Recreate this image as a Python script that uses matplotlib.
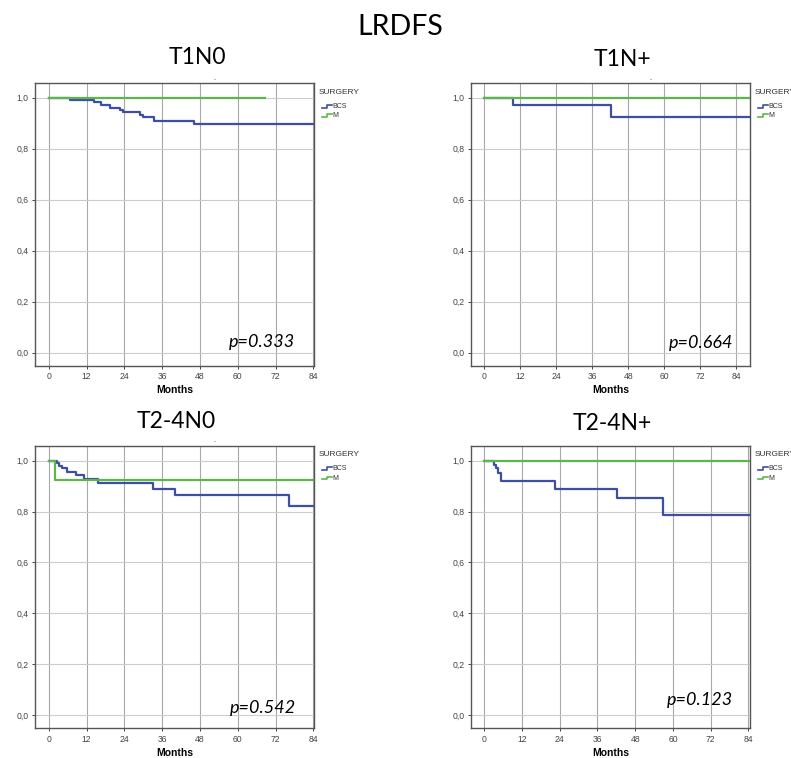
import matplotlib
matplotlib.use('Agg')
import matplotlib.pyplot as plt

# Kaplan-Meier step data (months, survival)
t1n0_bcs_t = [0, 6.8, 14.2, 16.6, 19.3, 22.7, 23.4, 29.0, 29.9, 33.3, 46.2, 84]
t1n0_bcs_s = [1.0, 0.992, 0.982, 0.971, 0.961, 0.951, 0.943, 0.931, 0.922, 0.910, 0.897, 0.897]
t1n0_m_t = [0, 68.7]
t1n0_m_s = [1.0, 1.0]

t1np_bcs_t = [0, 9.7, 42.3, 88.6]
t1np_bcs_s = [1.0, 0.971, 0.923, 0.923]
t1np_m_t = [0, 88.6]
t1np_m_s = [1.0, 1.0]

t24n0_bcs_t = [0, 2.7, 3.2, 4.1, 5.7, 8.7, 11.3, 15.5, 33.1, 39.9, 76.2, 84]
t24n0_bcs_s = [1.0, 0.99, 0.98, 0.970, 0.955, 0.944, 0.929, 0.913, 0.889, 0.866, 0.822, 0.822]
t24n0_m_t = [0, 2.1, 84]
t24n0_m_s = [1.0, 0.923, 0.923]

t24np_bcs_t = [0, 3.0, 3.8, 4.3, 5.2, 22.5, 42.1, 56.7, 84.5]
t24np_bcs_s = [1.0, 0.983, 0.970, 0.950, 0.920, 0.889, 0.852, 0.786, 0.786]
t24np_m_t = [0, 84.5]
t24np_m_s = [1.0, 1.0]

titles = ['T1N0', 'T1N+', 'T2-4N0', 'T2-4N+']
pvalues = ['p=0.333', 'p=0.664', 'p=0.542', 'p=0.123']
x_ticks = [0, 12, 24, 36, 48, 60, 72, 84]
y_ticks = [0.0, 0.2, 0.4, 0.6, 0.8, 1.0]
y_labels = ['0,0', '0,2', '0,4', '0,6', '0,8', '1,0']
groups = ['BCS', 'M']

blue = '#3e4fa3'
green = '#5db64a'

W, H = 791, 758
fig = plt.figure(figsize=(W / 100, H / 100), dpi=100)


def box(x0, y0, x1, y1):
    # pixel box -> figure fraction [left, bottom, width, height]
    return [x0 / W, 1 - y1 / H, (x1 - x0) / W, (y1 - y0) / H]


panels = [
    dict(rect=box(35, 83.3, 314, 366), xlim=(-4.4, 84.2), ylim=(-0.052, 1.056),
         bcs=(t1n0_bcs_t, t1n0_bcs_s), m=(t1n0_m_t, t1n0_m_s), p=(78.3, 0.043),
         title_xy=(197, 58), dot=(215, 80)),
    dict(rect=box(470.7, 83.3, 750, 366), xlim=(-4.5, 88.6), ylim=(-0.052, 1.056),
         bcs=(t1np_bcs_t, t1np_bcs_s), m=(t1np_m_t, t1np_m_s), p=(83.1, 0.04),
         title_xy=(622, 60), dot=(651, 80)),
    dict(rect=box(35, 445.7, 314, 728.3), xlim=(-4.4, 84.2), ylim=(-0.052, 1.059),
         bcs=(t24n0_bcs_t, t24n0_bcs_s), m=(t24n0_m_t, t24n0_m_s), p=(78.5, 0.029),
         title_xy=(176, 421), dot=(215, 442)),
    dict(rect=box(470.7, 445.7, 750, 728.3), xlim=(-4.3, 84.5), ylim=(-0.052, 1.059),
         bcs=(t24np_bcs_t, t24np_bcs_s), m=(t24np_m_t, t24np_m_s), p=(79.0, 0.059),
         title_xy=(612, 423), dot=None),
]

fig.text(400 / W, 1 - 27 / H, 'LRDFS', ha='center', va='center',
         fontsize=20.5, family='Lato')

for i, pn in enumerate(panels):
    ax = fig.add_axes(pn['rect'])
    ax.step(pn['bcs'][0], pn['bcs'][1], where='post', color=blue, lw=1.6, zorder=3)
    ax.step(pn['m'][0], pn['m'][1], where='post', color=green, lw=1.6, zorder=3)
    ax.set_xlim(pn['xlim'])
    ax.set_ylim(pn['ylim'])
    ax.set_xticks(x_ticks)
    ax.set_yticks(y_ticks)
    ax.set_yticklabels(y_labels)
    ax.tick_params(labelsize=6.2, length=2.5, width=0.7, colors='#444444', pad=2)
    for lab in ax.get_xticklabels() + ax.get_yticklabels():
        lab.set_family('Liberation Sans')
    ax.xaxis.grid(True, color='#a8a8a8', lw=0.8)
    ax.yaxis.grid(True, color='#cccccc', lw=0.8)
    ax.set_axisbelow(True)
    for sp in ax.spines.values():
        sp.set_color('#555555')
        sp.set_linewidth(1.0)
    ax.set_xlabel('Months', fontsize=7.5, fontweight='bold', family='Liberation Sans',
                  labelpad=3)
    ax.text(pn['p'][0], pn['p'][1], pvalues[i], ha='right', va='center',
            fontsize=13, style='italic', family='Lato')
    tx, ty = pn['title_xy']
    fig.text(tx / W, 1 - ty / H, titles[i], ha='center', va='center',
             fontsize=16.5, family='Lato')
    if pn['dot'] is not None:
        fig.text(pn['dot'][0] / W, 1 - pn['dot'][1] / H, '-', ha='center', va='center',
                 fontsize=4, color='#333333')

    # SPSS-style legend to the right of the plot
    ax.text(1.018, 0.969, 'SURGERY', transform=ax.transAxes, ha='left', va='center',
            fontsize=6, family='Liberation Sans', color='#333333')
    for k, (g, c) in enumerate(zip(groups, [blue, green])):
        yy = 0.918 - k * 0.033
        ax.plot([1.028, 1.045, 1.045, 1.064], [yy - 0.004, yy - 0.004, yy + 0.005, yy + 0.005],
                transform=ax.transAxes, color=c, lw=1.2, clip_on=False)
        ax.text(1.065, yy, g, transform=ax.transAxes, ha='left', va='center',
                fontsize=5, family='Liberation Sans', color='#333333')

plt.savefig('out.png', dpi=100)
